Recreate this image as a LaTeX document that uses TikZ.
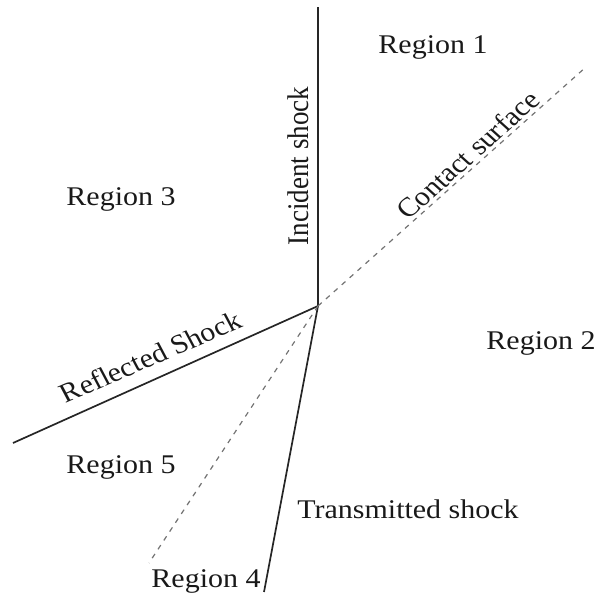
\documentclass[tikz,border=0pt]{standalone}
\usepackage{fontspec}
\setmainfont{Liberation Serif}
\begin{document}
\begin{tikzpicture}[x=0.5pt,y=-0.5pt,
  lbl/.style={font=\fontsize{13.5}{16}\selectfont, inner sep=0pt, text=black!90, xscale=1.11},
  shockline/.style={line width=0.85pt, draw=black!85},
  contactline/.style={line width=0.6pt, draw=black!55, dash pattern=on 2.5pt off 2.8pt}]
\useasboundingbox (0,0) rectangle (600,598);
\coordinate (X) at (318,306);
\coordinate (T) at (318,7);
\coordinate (R) at (13,443);
\coordinate (M) at (264,592);
\coordinate (C) at (586,67);
\coordinate (D) at (149,563);
\draw[shockline] (X) -- (T);
\draw[shockline] (X) -- (R);
\draw[shockline] (X) -- (M);
\draw[contactline] (X) -- (C);
\draw[contactline] (X) -- (D);
\node[lbl] (r1) at (433,47.5) {Region 1};
\node[lbl] (r2) at (541,343) {Region 2};
\node[lbl] (r3) at (121,199) {Region 3};
\node[lbl] (r4) at (206,581) {Region 4};
\node[lbl] (r5) at (121,467) {Region 5};
\node[lbl] (ts) at (408,509) {Transmitted shock};
\node[lbl, rotate=90, anchor=base] (is) at (308.5,166) {Incident shock};
\node[lbl, rotate=25.5, anchor=base] (rs) at (155,365) {Reflected Shock};
\node[lbl, rotate=44.8, anchor=base] (cs) at (475,161.5) {Contact surface};
\end{tikzpicture}
\end{document}
